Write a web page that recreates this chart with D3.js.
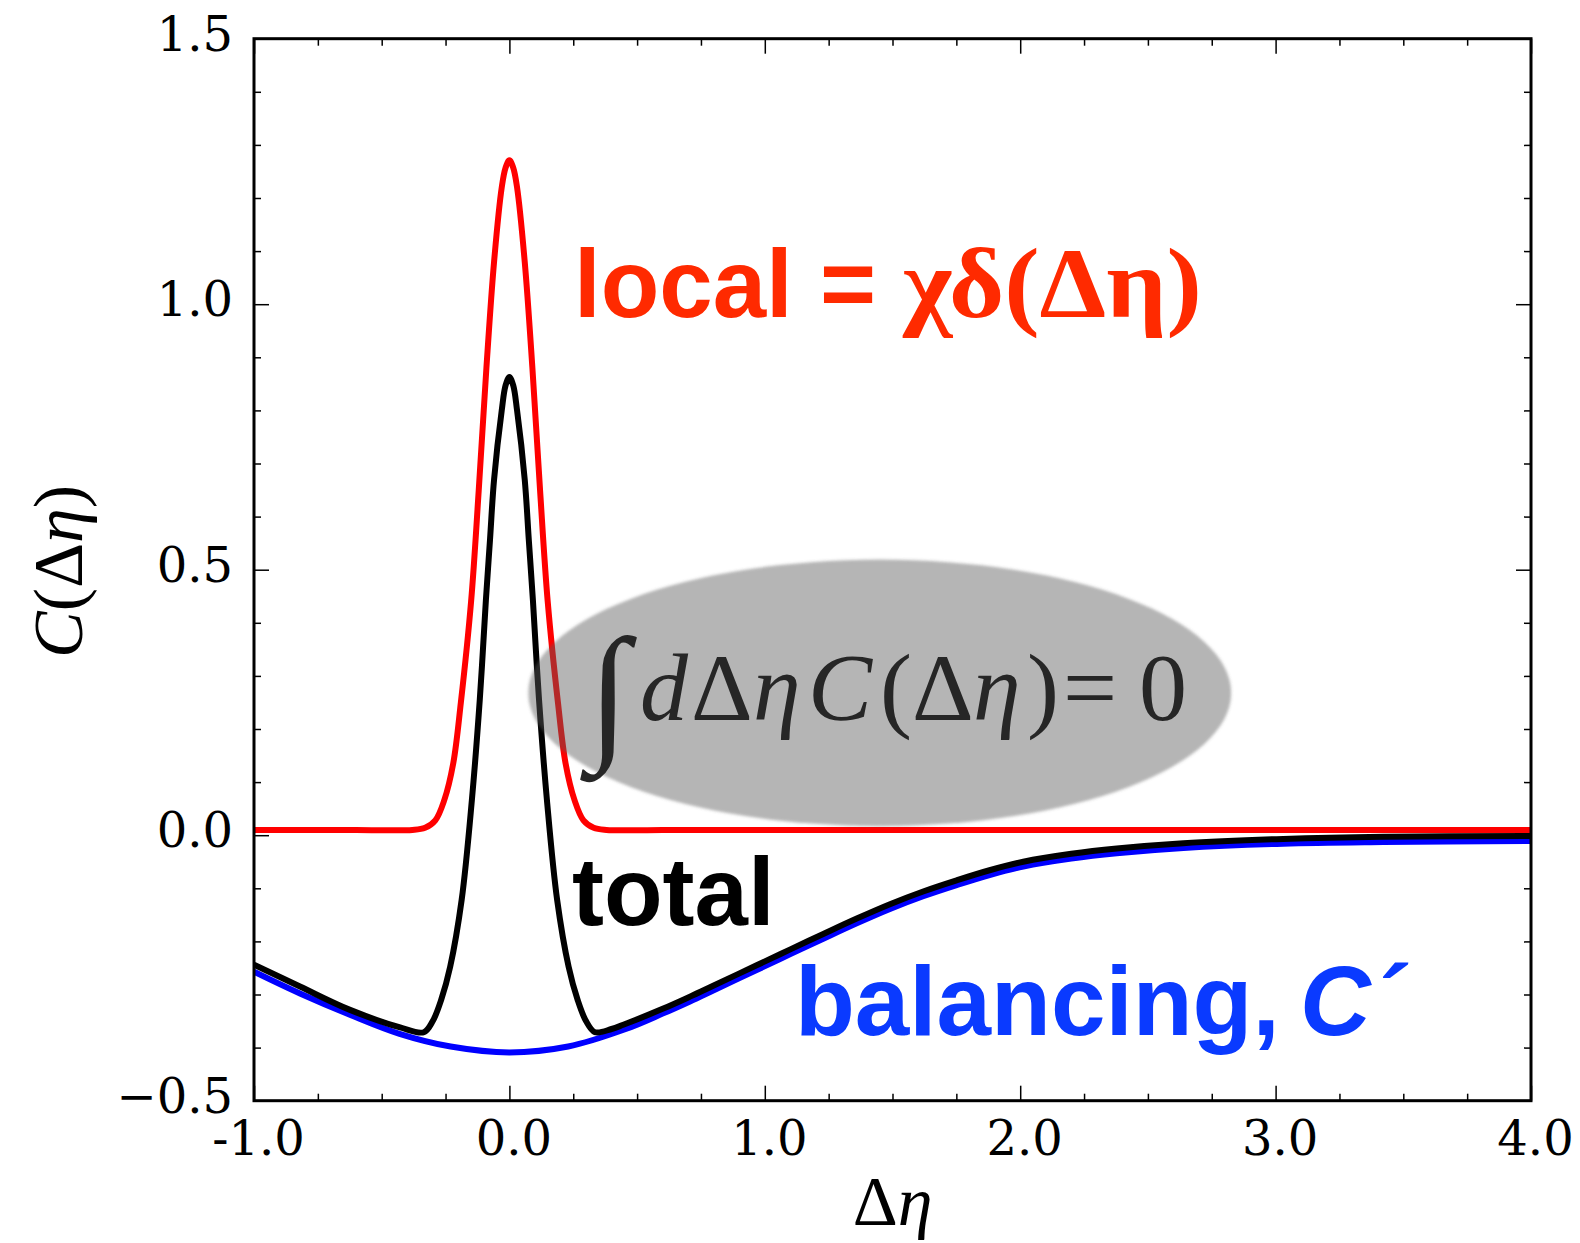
<!DOCTYPE html>
<html>
<head>
<meta charset="utf-8">
<script src="https://cdn.jsdelivr.net/npm/d3@7"></script>
<style>
  body { margin: 0; background: #fff; }
  svg { display: block; }
</style>
</head>
<body>
<div id="chart"></div>
<script>
// values
const xTicks = [-1, 0, 1, 2, 3, 4];
const xTickLabels = ["-1.0", "0.0", "1.0", "2.0", "3.0", "4.0"];
const yTicks = [-0.5, 0, 0.5, 1, 1.5];
const yTickLabels = ["\u22120.5", "0.0", "0.5", "1.0", "1.5"];

// local = chi delta(deta)  (red)
const localX = [-1.0, -0.6, -0.38, -0.33, -0.29, -0.255, -0.22, -0.19, -0.15, -0.12, -0.09, -0.06, -0.03, -0.015, 0,
                0.015, 0.03, 0.06, 0.09, 0.12, 0.15, 0.19, 0.22, 0.255, 0.29, 0.33, 0.38, 0.6, 1.0, 2.0, 3.0, 4.0];
const localY = [0.010, 0.010, 0.010, 0.014, 0.028, 0.066, 0.135, 0.25, 0.44, 0.65, 0.88, 1.08, 1.22, 1.257, 1.271,
                1.257, 1.22, 1.08, 0.88, 0.65, 0.44, 0.25, 0.135, 0.066, 0.028, 0.014, 0.010, 0.010, 0.010, 0.010, 0.010, 0.010];

// balancing, C' (blue)
const balX = [-1.0, -0.82, -0.62, -0.43, -0.23, 0, 0.23, 0.45, 0.6, 0.707, 0.8, 0.968, 1.1, 1.229, 1.36,
              1.49, 1.62, 1.751, 1.88, 2.012, 2.2, 2.378, 2.639, 3.03, 3.422, 4.0];
const balY = [-0.257, -0.298, -0.339, -0.374, -0.398, -0.409, -0.398, -0.366, -0.336, -0.313, -0.292, -0.254, -0.224, -0.195, -0.166,
              -0.139, -0.115, -0.094, -0.075, -0.059, -0.044, -0.034, -0.024, -0.016, -0.013, -0.011];

// total (black)
const totalX = [-1.0, -0.82, -0.624, -0.428, -0.335, -0.30, -0.267, -0.232, -0.187, -0.147, -0.116, -0.092, -0.076, -0.06, -0.03, -0.015, 0,
                0.015, 0.03, 0.06, 0.076, 0.092, 0.116, 0.147, 0.187, 0.232, 0.267, 0.30, 0.335, 0.4, 0.446, 0.6, 0.707, 0.8,
                0.968, 1.1, 1.229, 1.36, 1.49, 1.62, 1.751, 1.88, 2.012, 2.2, 2.378, 2.639, 3.03, 3.422, 4.0];
const totalY = [-0.244, -0.285, -0.329, -0.362, -0.371, -0.35, -0.31, -0.248, -0.122, 0.066, 0.255, 0.443, 0.556, 0.67, 0.80, 0.847, 0.863,
                0.847, 0.80, 0.67, 0.556, 0.443, 0.255, 0.066, -0.122, -0.248, -0.31, -0.35, -0.371, -0.365, -0.357, -0.327, -0.304, -0.283,
                -0.245, -0.215, -0.186, -0.157, -0.130, -0.106, -0.085, -0.066, -0.050, -0.035, -0.025, -0.015, -0.007, -0.003, -0.0015];

const w = 1580;
const h = 1243;
const margin = {top: 38.7, right: 49, bottom: 142.3, left: 254};

const xScale = d3.scaleLinear().domain([-1, 4]).range([margin.left, w - margin.right]);
const yScale = d3.scaleLinear().domain([-0.5, 1.5]).range([h - margin.bottom, margin.top]);

const svg = d3.select("#chart").append("svg")
  .attr("width", w)
  .attr("height", h);

const defs = svg.append("defs");
defs.append("clipPath").attr("id", "plot-clip")
  .append("rect")
  .attr("x", margin.left).attr("y", margin.top)
  .attr("width", w - margin.left - margin.right)
  .attr("height", h - margin.top - margin.bottom);
defs.append("filter").attr("id", "soft")
  .attr("x", "-10%").attr("y", "-10%").attr("width", "120%").attr("height", "120%")
  .append("feGaussianBlur").attr("stdDeviation", 1.6);

// curves
const line = d3.line()
  .x(d => xScale(d[0]))
  .y(d => yScale(d[1]))
  .curve(d3.curveCatmullRom.alpha(0.5));

const curves = svg.append("g").attr("clip-path", "url(#plot-clip)");
[
  {xs: localX, ys: localY, color: "#ff0000"},
  {xs: balX, ys: balY, color: "#0000ff"},
  {xs: totalX, ys: totalY, color: "#000000"}
].forEach(s => {
  curves.append("path")
    .datum(d3.zip(s.xs, s.ys))
    .attr("d", line)
    .attr("fill", "none")
    .attr("stroke", s.color)
    .attr("stroke-width", 6)
    .attr("stroke-linejoin", "round");
});

// grey ellipse with the sum rule
const ell = {cx: 1.45, cy: 0.268, rx: 1.376, ry: 0.251};
svg.append("ellipse")
  .attr("cx", xScale(ell.cx))
  .attr("cy", yScale(ell.cy))
  .attr("rx", xScale(ell.rx) - xScale(0))
  .attr("ry", yScale(0) - yScale(ell.ry))
  .attr("fill", "rgb(90,90,90)")
  .attr("fill-opacity", 0.45)
  .attr("filter", "url(#soft)");

const formula = [
  {t: "\u222B", x: 588, it: false, size: 150, dy: 22},
  {t: "d", x: 640, it: true},
  {t: "\u0394", x: 691, it: false},
  {t: "\u03B7", x: 753, it: true},
  {t: "C", x: 808, it: true},
  {t: "(", x: 880, it: false},
  {t: "\u0394", x: 912, it: false},
  {t: "\u03B7", x: 973, it: true},
  {t: ")", x: 1027, it: false},
  {t: "=", x: 1063, it: false},
  {t: "0", x: 1139, it: false}
];
const ft = svg.append("text")
  .attr("y", 720)
  .attr("font-family", "'Liberation Serif', 'DejaVu Serif', serif")
  .attr("font-size", 96)
  .attr("fill", "#262626");
formula.forEach(p => {
  ft.append("tspan")
    .attr("x", p.x)
    .attr("y", 720 + (p.dy || 0))
    .attr("font-style", p.it ? "italic" : "normal")
    .attr("font-size", p.size || 96)
    .text(p.t);
});

// curve labels
const lab = svg.append("g").attr("font-weight", "bold");
const localLab = lab.append("text")
  .attr("x", 574).attr("y", 316.7)
  .attr("fill", "#ff2a00")
  .attr("font-family", "'Liberation Sans', Arial, sans-serif")
  .attr("font-size", 96);
localLab.append("tspan").text("local");
localLab.append("tspan").attr("x", 820).text("=");
lab.append("text")
  .attr("x", 903).attr("y", 316.7)
  .attr("fill", "#ff2a00")
  .attr("font-family", "'Liberation Serif', 'DejaVu Serif', serif")
  .attr("font-size", 100)
  .attr("textLength", 299)
  .attr("lengthAdjust", "spacingAndGlyphs")
  .text("\u03C7\u03B4(\u0394\u03B7)");

lab.append("text")
  .attr("x", 572).attr("y", 925)
  .attr("fill", "#000")
  .attr("font-family", "'Liberation Sans', Arial, sans-serif")
  .attr("font-size", 96)
  .text("total");

const balLab = lab.append("text")
  .attr("x", 795).attr("y", 1035)
  .attr("fill", "#0a3aff")
  .attr("font-family", "'Liberation Sans', Arial, sans-serif")
  .attr("font-size", 98);
balLab.append("tspan").text("balancing,");
balLab.append("tspan").attr("x", 1300).attr("font-style", "italic").text("C\u00B4");

// axes, ticks pointing in on all four sides
const xMinor = d3.range(-1, 4.001, 0.25).filter(v => Math.abs(v - Math.round(v)) > 1e-6);
const yMinor = d3.range(-0.5, 1.501, 0.1).filter(v => Math.abs(v * 2 - Math.round(v * 2)) > 1e-6);

const xAxis = d3.axisBottom(xScale).tickValues(xTicks)
  .tickFormat((d, i) => xTickLabels[i])
  .tickSizeInner(-15).tickSizeOuter(0).tickPadding(20);
const yAxis = d3.axisLeft(yScale).tickValues(yTicks)
  .tickFormat((d, i) => yTickLabels[i])
  .tickSizeInner(-15).tickSizeOuter(0).tickPadding(21);

function addAxis(axis, tx, ty) {
  const g = svg.append("g").attr("transform", "translate(" + tx + "," + ty + ")").call(axis);
  g.select(".domain").remove();
  g.selectAll(".tick line").attr("stroke", "#000").attr("stroke-width", 1.5);
  return g;
}

const gx = addAxis(xAxis, 0, h - margin.bottom);
gx.selectAll("text").attr("dx", 4);
addAxis(d3.axisBottom(xScale).tickValues(xMinor).tickFormat("").tickSizeInner(-7).tickSizeOuter(0), 0, h - margin.bottom);
addAxis(d3.axisTop(xScale).tickValues(xTicks).tickFormat("").tickSizeInner(-15).tickSizeOuter(0), 0, margin.top);
addAxis(d3.axisTop(xScale).tickValues(xMinor).tickFormat("").tickSizeInner(-7).tickSizeOuter(0), 0, margin.top);

const gy = addAxis(yAxis, margin.left, 0);
gy.selectAll("text").attr("dy", "0.24em");
addAxis(d3.axisLeft(yScale).tickValues(yMinor).tickFormat("").tickSizeInner(-7).tickSizeOuter(0), margin.left, 0);
addAxis(d3.axisRight(yScale).tickValues(yTicks).tickFormat("").tickSizeInner(-15).tickSizeOuter(0), w - margin.right, 0);
addAxis(d3.axisRight(yScale).tickValues(yMinor).tickFormat("").tickSizeInner(-7).tickSizeOuter(0), w - margin.right, 0);

svg.selectAll(".tick text")
  .attr("font-family", "'DejaVu Serif', serif")
  .attr("font-size", 48)
  .attr("fill", "#000");

// frame
svg.append("rect")
  .attr("x", margin.left).attr("y", margin.top)
  .attr("width", w - margin.left - margin.right)
  .attr("height", h - margin.top - margin.bottom)
  .attr("fill", "none")
  .attr("stroke", "#000")
  .attr("stroke-width", 3);

// axis titles
const xt = svg.append("text")
  .attr("x", (margin.left + w - margin.right) / 2)
  .attr("y", 1225)
  .attr("text-anchor", "middle")
  .attr("font-family", "'Liberation Serif', 'DejaVu Serif', serif")
  .attr("font-size", 70);
xt.append("tspan").text("\u0394");
xt.append("tspan").attr("font-style", "italic").text("\u03B7");

const yt = svg.append("text")
  .attr("transform", "translate(82,571.5) rotate(-90)")
  .attr("text-anchor", "middle")
  .attr("font-family", "'Liberation Serif', 'DejaVu Serif', serif")
  .attr("font-size", 70);
yt.append("tspan").attr("font-style", "italic").text("C");
yt.append("tspan").text("(\u0394");
yt.append("tspan").attr("font-style", "italic").text("\u03B7");
yt.append("tspan").text(")");
</script>
</body>
</html>
